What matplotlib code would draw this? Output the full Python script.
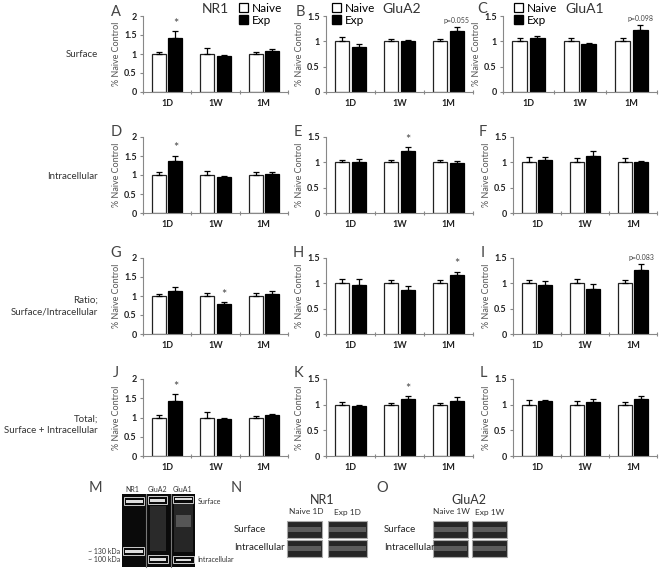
import numpy as np
import matplotlib
matplotlib.use('Agg')
import matplotlib.pyplot as plt
from matplotlib.patches import Rectangle, Patch

plt.rcParams['font.family'] = ['Lato', 'DejaVu Sans']

W, H = 662, 569

categories = ['1D', '1W', '1M']
naive = [1, 1, 1]

# NR1
nr1_surf_exp = [1.41, 0.96, 1.07]
nr1_surf_exp_err = [0.19, 0.02, 0.05]
nr1_surf_naive_err = [0.05, 0.15, 0.04]
nr1_intra_exp = [1.37, 0.96, 1.02]
nr1_intra_exp_err = [0.14, 0.02, 0.06]
nr1_intra_naive_err = [0.07, 0.10, 0.09]
nr1_ratio_exp = [1.12, 0.80, 1.05]
nr1_ratio_exp_err = [0.11, 0.03, 0.08]
nr1_ratio_naive_err = [0.06, 0.07, 0.07]
nr1_total_exp = [1.42, 0.97, 1.06]
nr1_total_exp_err = [0.18, 0.02, 0.02]
nr1_total_naive_err = [0.07, 0.15, 0.04]

# GluA2
glua2_surf_exp = [0.89, 1.00, 1.20]
glua2_surf_exp_err = [0.06, 0.03, 0.09]
glua2_surf_naive_err = [0.09, 0.04, 0.05]
glua2_intra_exp = [1.01, 1.22, 0.98]
glua2_intra_exp_err = [0.05, 0.08, 0.04]
glua2_intra_naive_err = [0.04, 0.04, 0.04]
glua2_ratio_exp = [0.97, 0.86, 1.17]
glua2_ratio_exp_err = [0.12, 0.09, 0.06]
glua2_ratio_naive_err = [0.08, 0.07, 0.06]
glua2_total_exp = [0.97, 1.12, 1.08]
glua2_total_exp_err = [0.02, 0.04, 0.06]
glua2_total_naive_err = [0.05, 0.03, 0.04]

# GluA1
glua1_surf_exp = [1.06, 0.94, 1.22]
glua1_surf_exp_err = [0.05, 0.03, 0.11]
glua1_surf_naive_err = [0.06, 0.06, 0.06]
glua1_intra_exp = [1.05, 1.12, 1.00]
glua1_intra_exp_err = [0.05, 0.11, 0.03]
glua1_intra_naive_err = [0.10, 0.08, 0.08]
glua1_ratio_exp = [0.96, 0.88, 1.26]
glua1_ratio_exp_err = [0.09, 0.10, 0.12]
glua1_ratio_naive_err = [0.07, 0.09, 0.07]
glua1_total_exp = [1.08, 1.05, 1.11]
glua1_total_exp_err = [0.02, 0.07, 0.05]
glua1_total_naive_err = [0.09, 0.07, 0.06]

# significance marks: panel -> {category index: text}
marks_A = {0: '*'}
marks_B = {2: 'p=0.055'}
marks_C = {2: 'p=0.098'}
marks_D = {0: '*'}
marks_E = {1: '*'}
marks_G = {1: '*'}
marks_H = {2: '*'}
marks_I = {2: 'p=0.083'}
marks_J = {0: '*'}
marks_K = {1: '*'}

fig = plt.figure(figsize=(W / 100, H / 100), dpi=100)


def px_axes(x0, x1, y0, y1):
    return fig.add_axes([x0 / W, 1 - y1 / H, (x1 - x0) / W, (y1 - y0) / H])


def bar_panel(rect, ymax, naive_err, exp, exp_err, marks=None):
    ax = px_axes(*rect)
    x = np.arange(len(categories))
    off, bw = 0.17, 0.29
    ax.bar(x - off, naive, bw, color='white', edgecolor='#222222', linewidth=0.9, zorder=2)
    ax.bar(x + off, exp, bw, color='black', edgecolor='black', linewidth=0.9, zorder=2)
    ax.errorbar(x - off, naive, yerr=[np.zeros(3), naive_err], fmt='none',
                ecolor='black', elinewidth=0.9, capsize=2, capthick=0.9, zorder=3)
    ax.errorbar(x + off, exp, yerr=[np.zeros(3), exp_err], fmt='none',
                ecolor='black', elinewidth=0.9, capsize=2, capthick=0.9, zorder=3)
    ax.set_xlim(-0.5, 2.5)
    ax.set_ylim(0, ymax)
    yt = np.arange(0, ymax + 0.01, 0.5)
    ax.set_yticks(yt)
    ax.set_yticklabels(['%g' % v for v in yt], fontsize=6.5, fontweight='bold', color='#222222')
    ax.set_xticks([-0.5, 0.5, 1.5, 2.5])
    ax.set_xticklabels([])
    ax.set_xticks(x, minor=True)
    ax.set_xticklabels(categories, minor=True, fontsize=6.5, fontweight='bold', color='#222222')
    ax.tick_params(axis='x', which='minor', length=0, pad=5)
    ax.tick_params(axis='x', which='major', length=3, direction='inout', color='#888888')
    ax.tick_params(axis='y', length=2.5, pad=2, color='#888888')
    for s in ['top', 'right']:
        ax.spines[s].set_visible(False)
    for s in ['left', 'bottom']:
        ax.spines[s].set_color('#888888')
        ax.spines[s].set_linewidth(0.8)
    ax.set_ylabel('% Naive Control', fontsize=6.5, color='#555555', labelpad=2)
    ax.patch.set_alpha(0)
    if marks:
        for i, txt in marks.items():
            top = exp[i] + exp_err[i]
            if txt == '*':
                ax.text(i + off, top + ymax * 0.02, '*', ha='center', va='bottom',
                        fontsize=9, color='#444444')
            else:
                ax.text(i + off, top + ymax * 0.04, txt, ha='center', va='bottom',
                        fontsize=5, color='#444444')
    return ax


# row 1 - surface
axA = bar_panel((143, 288, 16, 92), 2, nr1_surf_naive_err, nr1_surf_exp, nr1_surf_exp_err, marks_A)
axB = bar_panel((326, 473, 16, 92), 1.5, glua2_surf_naive_err, glua2_surf_exp, glua2_surf_exp_err, marks_B)
axC = bar_panel((503, 657, 16, 92), 1.5, glua1_surf_naive_err, glua1_surf_exp, glua1_surf_exp_err, marks_C)
# row 2 - intracellular
bar_panel((143, 288, 137, 213), 2, nr1_intra_naive_err, nr1_intra_exp, nr1_intra_exp_err, marks_D)
bar_panel((326, 473, 137, 213), 1.5, glua2_intra_naive_err, glua2_intra_exp, glua2_intra_exp_err, marks_E)
bar_panel((513, 657, 137, 213), 1.5, glua1_intra_naive_err, glua1_intra_exp, glua1_intra_exp_err)
# row 3 - ratio
bar_panel((143, 288, 258, 334), 2, nr1_ratio_naive_err, nr1_ratio_exp, nr1_ratio_exp_err, marks_G)
bar_panel((326, 473, 258, 334), 1.5, glua2_ratio_naive_err, glua2_ratio_exp, glua2_ratio_exp_err, marks_H)
bar_panel((513, 657, 258, 334), 1.5, glua1_ratio_naive_err, glua1_ratio_exp, glua1_ratio_exp_err, marks_I)
# row 4 - total
bar_panel((143, 288, 379, 456), 2, nr1_total_naive_err, nr1_total_exp, nr1_total_exp_err, marks_J)
bar_panel((326, 473, 379, 456), 1.5, glua2_total_naive_err, glua2_total_exp, glua2_total_exp_err, marks_K)
bar_panel((513, 657, 379, 456), 1.5, glua1_total_naive_err, glua1_total_exp, glua1_total_exp_err)

# legends
handles = [Patch(facecolor='white', edgecolor='black', linewidth=0.9, label='Naive'),
           Patch(facecolor='black', edgecolor='black', label='Exp')]
for ax, lx in [(axA, 239), (axB, 332), (axC, 514)]:
    ax.legend(handles=handles, loc='upper left', bbox_to_anchor=(lx / W, 1 - 3 / H),
              bbox_transform=fig.transFigure, frameon=False, fontsize=8.5,
              handlelength=0.8, handleheight=0.8, handletextpad=0.3,
              labelspacing=0.05, borderpad=0, borderaxespad=0)

# overlay in pixel coordinates for labels and blots
ov = fig.add_axes([0, 0, 1, 1])
ov.set_xlim(0, W)
ov.set_ylim(H, 0)
ov.axis('off')
ov.patch.set_alpha(0)

letters = [('A', 116, 12), ('B', 300, 12), ('C', 482, 9),
           ('D', 116, 132), ('E', 298, 132), ('F', 483, 132),
           ('G', 116, 253), ('H', 298, 253), ('I', 483, 253),
           ('J', 116, 373), ('K', 298, 373), ('L', 483, 373),
           ('M', 95, 488), ('N', 236, 488), ('O', 382, 488)]
for t, x, y in letters:
    ov.text(x, y, t, fontsize=10.5, color='#444444', ha='center', va='center')

for t, x in [('NR1', 215), ('GluA2', 402), ('GluA1', 585)]:
    ov.text(x, 9, t, fontsize=10, color='#333333', ha='center', va='center')

row_labels = [('Surface', 54), ('Intracellular', 176),
              ('Ratio;\nSurface/Intracellular', 306), ('Total;\nSurface + Intracellular', 425)]
for t, y in row_labels:
    ov.text(98, y, t, fontsize=7, color='#333333', ha='right', va='center',
            multialignment='right', linespacing=1.35)

# M: full lane blot
ov.add_patch(Rectangle((122, 494), 73, 73, facecolor='#0a0a0a', edgecolor='none'))
for lx in [145.5, 170.5]:
    ov.plot([lx, lx], [494, 567], color='#777777', lw=0.8)
# smears
ov.add_patch(Rectangle((150, 506), 16, 45, facecolor='#2a2a2a', edgecolor='none'))
ov.add_patch(Rectangle((174, 504), 19, 48, facecolor='#262626', edgecolor='none'))
ov.add_patch(Rectangle((176, 515), 15, 12, facecolor='#555555', edgecolor='none'))
bands = [(126, 500, 17, 3), (150, 499, 15, 3), (175, 498, 17, 2),
         (125, 550, 18, 3), (150, 558, 16, 3), (176, 559, 15, 1.5)]
for bx, by, bw, bh in bands:
    ov.add_patch(Rectangle((bx, by), bw, bh, facecolor='#dddddd', edgecolor='none'))
boxes = [(124, 497, 20, 8), (148, 496, 19, 8), (173, 496, 20, 7),
         (123, 547, 21, 8), (147.5, 555, 20, 8), (172.5, 556, 21, 7)]
for bx, by, bw, bh in boxes:
    ov.add_patch(Rectangle((bx, by), bw, bh, facecolor='none', edgecolor='#cccccc', lw=0.7))
for t, x in [('NR1', 132), ('GluA2', 157), ('GluA1', 182)]:
    ov.text(x, 489, t, fontsize=5, color='#333333', ha='center', va='center')
ov.text(198, 501, 'Surface', fontsize=5, color='#333333', ha='left', va='center')
ov.text(197, 560, 'Intracellular', fontsize=5, color='#333333', ha='left', va='center')
ov.text(120, 551, '~ 130 kDa', fontsize=5, color='#333333', ha='right', va='center')
ov.text(120, 560, '~ 100 kDa', fontsize=5, color='#333333', ha='right', va='center')


def blot_pair(x_naive, x_exp, widths, title, tx, names, name_x, label_x):
    ov.text(tx, 500, title, fontsize=9, color='#333333', ha='center', va='center')
    for t, x in zip(names, name_x):
        ov.text(x, 512, t, fontsize=6, color='#333333', ha='center', va='center')
    for x0, w in zip([x_naive, x_exp], widths):
        for y0 in [521, 540]:
            ov.add_patch(Rectangle((x0, y0), w, 17, facecolor='#262626',
                                   edgecolor='#aaaaaa', lw=0.8))
            ov.add_patch(Rectangle((x0 + 1, y0 + 6), w - 2, 5, facecolor='#6a6a6a',
                                   edgecolor='none', alpha=0.8))
    ov.text(label_x, 529, 'Surface', fontsize=7, color='#222222', ha='left', va='center')
    ov.text(label_x, 548, 'Intracellular', fontsize=7, color='#222222', ha='left', va='center')


blot_pair(287, 328, [35, 39], 'NR1', 322, ['Naive 1D', 'Exp 1D'], [306, 347], 234)
blot_pair(433, 472, [35, 35], 'GluA2', 469, ['Naive 1W', 'Exp 1W'], [451, 490], 384)

fig.savefig('out.png', dpi=100)
